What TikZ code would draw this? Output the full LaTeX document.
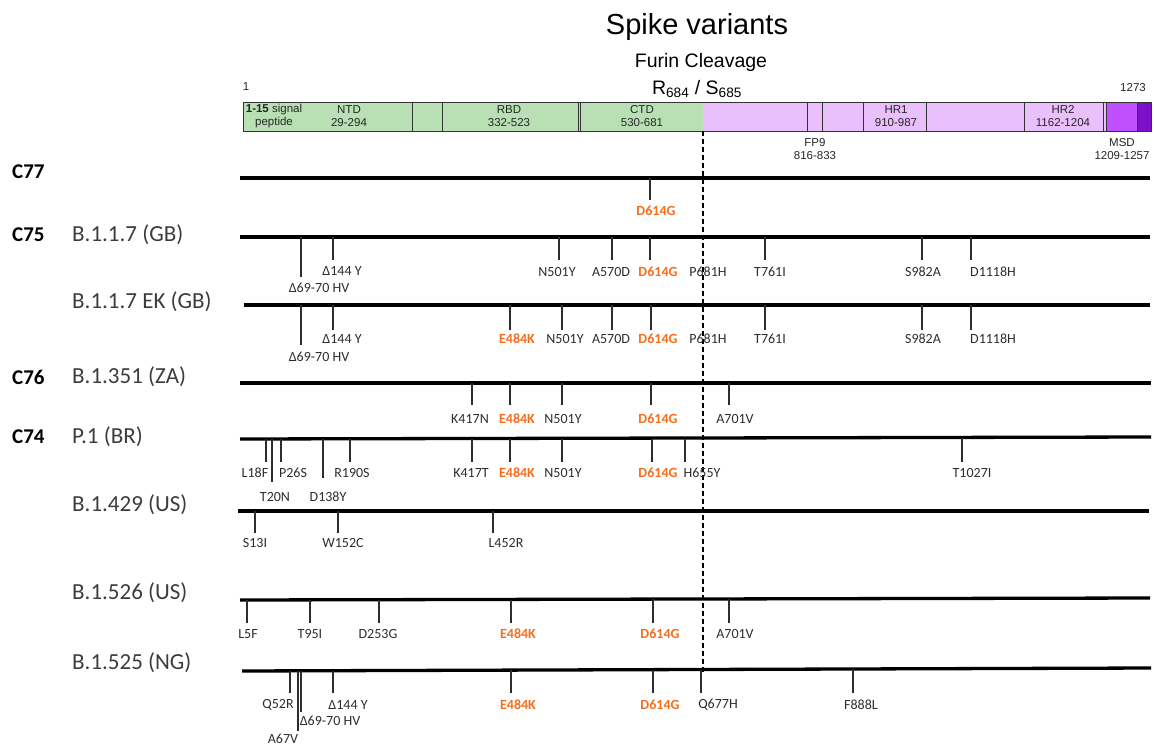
\documentclass[tikz,border=0pt]{standalone}
\usepackage{fontspec}
\setmainfont{Carlito}
\newfontfamily\arialf{Liberation Sans}
\definecolor{org}{RGB}{245,110,30}
\definecolor{gtxt}{RGB}{45,45,45}
\definecolor{vtxt}{RGB}{60,60,60}
\definecolor{sgreen}{RGB}{184,224,180}
\definecolor{lpurp}{RGB}{234,192,252}
\definecolor{mpurp}{RGB}{192,80,255}
\definecolor{dpurp}{RGB}{122,16,200}
\tikzset{
  rowline/.style={line width=3.3pt},
  tick/.style={line width=1.3pt, gtxt},
  mlab/.style={inner sep=0pt, font=\fontsize{14}{16}\selectfont, text=gtxt},
  olab/.style={inner sep=0pt, font=\fontsize{14}{16}\selectfont\bfseries, text=org},
  clab/.style={inner sep=0pt, anchor=west, font=\fontsize{21}{24}\selectfont\bfseries},
  vlab/.style={inner sep=0pt, anchor=west, font=\fontsize{23}{26}\selectfont, text=vtxt},
  seg/.style={draw=black!80, line width=1pt},
  btxt/.style={inner sep=0pt, align=center, font=\arialf\fontsize{11.5}{13}\selectfont, text=black!85},
}
% #1 style, #2 name, #3 tick x, #4 row y, #5 tick end y, #6 label x, #7 label y, #8 text
\newcommand\mt[8][mlab]{%
  \coordinate (#2t) at (#3,#4);
  \coordinate (#2b) at (#3,#5);
  \draw[tick] (#2t) -- (#2b);
  \node[#1] (#2) at (#6,#7) {#8};}
\begin{document}
\begin{tikzpicture}[x=1pt,y=-1pt]
\useasboundingbox (0,0) rectangle (1154,747);

% title
\node[inner sep=0pt, font=\arialf\fontsize{29}{32}\selectfont] (title) at (697,27) {Spike variants};
\node[inner sep=0pt, font=\arialf\fontsize{19.5}{22}\selectfont] (furin) at (701,62) {Furin Cleavage};
\node[inner sep=0pt, font=\arialf\fontsize{19.5}{22}\selectfont] (rs) at (697,89) {R\textsubscript{684} / S\textsubscript{685}};
\node[btxt] (one) at (246,87) {1};
\node[btxt] (end) at (1133,88) {1273};

% domain bar
\fill[sgreen] (243,102) rectangle (703,131);
\fill[lpurp] (703,102) rectangle (1106,131);
\fill[mpurp] (1106,102) rectangle (1137,131);
\fill[dpurp] (1137,102) rectangle (1151,131);
\draw[seg] (243,102) rectangle (1151,131);
\foreach \xx in {412,442,578,580.5,807,822,863,926,1024,1103,1106,1137}
  \draw[seg] (\xx,102) -- (\xx,131);

\node[btxt] (sig) at (274,116.5) {\textbf{1-15} signal\\ peptide};
\node[btxt] (ntd) at (349,116.5) {NTD\\29-294};
\node[btxt] (rbd) at (509,116.5) {RBD\\332-523};
\node[btxt] (ctd) at (642,116.5) {CTD\\530-681};
\node[btxt] (hr1) at (896,116.5) {HR1\\910-987};
\node[btxt] (hr2) at (1063,116.5) {HR2\\1162-1204};
\node[btxt] (fp9) at (815,149.5) {FP9\\816-833};
\node[btxt] (msd) at (1122,149.5) {MSD\\1209-1257};

% furin cleavage dashed line
\coordinate (dtop) at (703,131);
\coordinate (dbot) at (703,672);
\draw[line width=2pt, dash pattern=on 5pt off 3pt] (dtop) -- (dbot);

% left labels
\node[clab] (c77) at (12,172) {C77};
\node[clab] (c75) at (12,235) {C75};
\node[clab] (c76) at (12,377) {C76};
\node[clab] (c74) at (12,437) {C74};
\node[vlab] (v1) at (72,235) {B.1.1.7 (GB)};
\node[vlab] (v2) at (72,302) {B.1.1.7 EK (GB)};
\node[vlab] (v3) at (72,377) {B.1.351 (ZA)};
\node[vlab] (v4) at (72,437) {P.1 (BR)};
\node[vlab] (v5) at (72,505) {B.1.429 (US)};
\node[vlab] (v6) at (72,593) {B.1.526 (US)};
\node[vlab] (v7) at (72,663) {B.1.525 (NG)};

% row lines
\coordinate (r1a) at (240,178); \coordinate (r1b) at (1150,178);
\coordinate (r2a) at (240,237); \coordinate (r2b) at (1150,237);
\coordinate (r3a) at (244,305); \coordinate (r3b) at (1150,305);
\coordinate (r4a) at (240,383); \coordinate (r4b) at (1151,383);
\coordinate (r5a) at (240,439); \coordinate (r5b) at (1151,437);
\coordinate (r6a) at (238,511); \coordinate (r6b) at (1149,511);
\coordinate (r7a) at (240,600); \coordinate (r7b) at (1150,598);
\coordinate (r8a) at (242,671); \coordinate (r8b) at (1151,668);
\foreach \r in {1,...,8} \draw[rowline] (r\r a) -- (r\r b);

% row 1: C77
\mt[olab]{a1}{650}{178}{200}{656}{211}{D614G}

% row 2: B.1.1.7
\mt{b1}{301}{237}{277}{319}{288}{Δ69-70 HV}
\mt{b2}{333}{237}{260}{342}{271}{Δ144 Y}
\mt{b3}{559}{237}{260}{557}{272}{N501Y}
\mt{b4}{612}{237}{260}{611}{272}{A570D}
\mt[olab]{b5}{650}{237}{260}{658}{272}{D614G}
\node[mlab] (b6) at (708,272) {P681H};
\mt{b7}{765}{237}{260}{770}{272}{T761I}
\mt{b8}{922}{237}{260}{923}{272}{S982A}
\mt{b9}{971}{237}{260}{993}{272}{D1118H}

% row 3: B.1.1.7 EK
\mt{c1}{301}{305}{345}{319}{357}{Δ69-70 HV}
\mt{c2}{333}{305}{330}{342}{339}{Δ144 Y}
\mt[olab]{c3}{510}{305}{330}{517}{339}{E484K}
\mt{c4}{562}{305}{330}{565}{339}{N501Y}
\mt{c5}{612}{305}{330}{611}{339}{A570D}
\mt[olab]{c6}{651}{305}{330}{658}{339}{D614G}
\node[mlab] (c7) at (708,339) {P681H};
\mt{c8}{765}{305}{330}{770}{339}{T761I}
\mt{c9}{922}{305}{330}{923}{339}{S982A}
\mt{c10}{971}{305}{330}{993}{339}{D1118H}

% row 4: B.1.351
\mt{d1}{472}{383}{405}{470}{419}{K417N}
\mt[olab]{d2}{510}{383}{405}{517}{419}{E484K}
\mt{d3}{562}{383}{405}{563}{419}{N501Y}
\mt[olab]{d4}{651}{383}{405}{658}{419}{D614G}
\mt{d5}{729}{383}{405}{735}{419}{A701V}

% row 5: P.1
\mt{e1}{266}{439}{462}{255}{473}{L18F}
\mt{e2}{272}{439}{482}{275}{497}{T20N}
\mt{e3}{281}{439}{462}{293}{473}{P26S}
\mt{e4}{323}{439}{478}{328}{497}{D138Y}
\mt{e5}{350}{439}{462}{352}{473}{R190S}
\mt{e6}{472}{439}{462}{471}{473}{K417T}
\mt[olab]{e7}{510}{439}{462}{517}{473}{E484K}
\mt{e8}{562}{439}{462}{563}{473}{N501Y}
\mt[olab]{e9}{652}{439}{462}{658}{473}{D614G}
\mt{e10}{685}{439}{462}{702}{473}{H655Y}
\mt{e11}{962}{438}{462}{972}{473}{T1027I}

% row 6: B.1.429
\mt{f1}{255}{511}{533}{255}{543}{S13I}
\mt{f2}{338}{511}{533}{343}{543}{W152C}
\mt{f3}{493}{511}{533}{506}{543}{L452R}

% row 7: B.1.526
\mt{g1}{247}{600}{623}{248}{634}{L5F}
\mt{g2}{310}{600}{623}{310}{634}{T95I}
\mt{g3}{379}{600}{623}{378}{634}{D253G}
\mt[olab]{g4}{511}{600}{623}{518}{634}{E484K}
\mt[olab]{g5}{653}{599}{623}{660}{634}{D614G}
\mt{g6}{729}{599}{623}{735}{634}{A701V}

% row 8: B.1.525
\mt{h1}{290}{671}{693}{278}{705}{Q52R}
\mt{h2}{298}{671}{731}{283}{739}{A67V}
\mt{h3}{301}{671}{712}{330}{721}{Δ69-70 HV}
\mt{h4}{333}{671}{693}{348}{705}{Δ144 Y}
\mt[olab]{h5}{511}{670}{693}{518}{705}{E484K}
\mt[olab]{h6}{653}{670}{693}{660}{705}{D614G}
\mt{h7}{701}{670}{693}{718}{705}{Q677H}
\mt{h8}{853}{669}{693}{861}{705}{F888L}
\end{tikzpicture}
\end{document}
